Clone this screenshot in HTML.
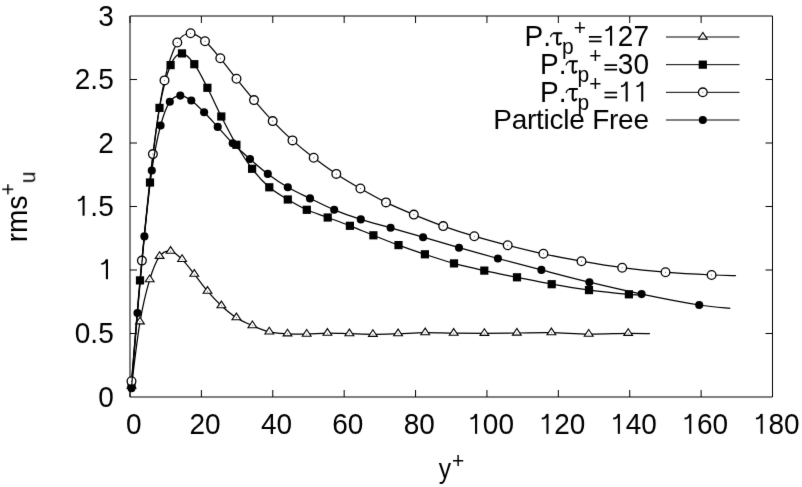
<!DOCTYPE html><html><head><meta charset="utf-8"><style>html,body{margin:0;padding:0;background:#fff;overflow:hidden;}svg{display:block;}text{font-family:"Liberation Sans",sans-serif;font-size:28px;fill:#000;font-kerning:none;}</style></head><body>
<svg width="802" height="487" viewBox="0 0 802 487">
<defs><filter id="soft" x="0" y="0" width="802" height="487" filterUnits="userSpaceOnUse" color-interpolation-filters="sRGB"><feConvolveMatrix order="3" kernelMatrix="0.00524 0.06192 0.00524 0.06192 0.73137 0.06192 0.00524 0.06192 0.00524" divisor="1" edgeMode="duplicate" preserveAlpha="true"/></filter></defs>
<g filter="url(#soft)" style="will-change:transform">
<rect width="802" height="487" fill="#fff"/>
<path d="M130,16H772.5V397H130ZM130,333.50h7M772.5,333.50h-7M130,270.00h7M772.5,270.00h-7M130,206.50h7M772.5,206.50h-7M130,143.00h7M772.5,143.00h-7M130,79.50h7M772.5,79.50h-7M130.00,397v-7M130.00,16v7M201.39,397v-7M201.39,16v7M272.78,397v-7M272.78,16v7M344.17,397v-7M344.17,16v7M415.56,397v-7M415.56,16v7M486.94,397v-7M486.94,16v7M558.33,397v-7M558.33,16v7M629.72,397v-7M629.72,16v7M701.11,397v-7M701.11,16v7M772.50,397v-7M772.50,16v7" fill="none" stroke="#000" stroke-width="1"/>
<text transform="translate(98.13,406.60) scale(1,1.035)">0</text>
<text transform="translate(74.78,343.10) scale(1,1.035)">0</text><text transform="translate(90.35,343.10) scale(1,1.035)">.</text><text transform="translate(98.13,343.10) scale(1,1.035)">5</text>
<path d="M105.88,279.20h2.10v-19.90h-2.10z" fill="#000"/><path d="M101.23,263.90C103.73,263.90 105.73,262.60 106.43,259.80" fill="none" stroke="#000" stroke-width="1.90"/>
<path d="M82.53,215.70h2.10v-19.90h-2.10z" fill="#000"/><path d="M77.88,200.40C80.38,200.40 82.38,199.10 83.08,196.30" fill="none" stroke="#000" stroke-width="1.90"/><text transform="translate(90.35,216.10) scale(1,1.035)">.</text><text transform="translate(98.13,216.10) scale(1,1.035)">5</text>
<text transform="translate(98.13,152.60) scale(1,1.035)">2</text>
<text transform="translate(74.78,89.10) scale(1,1.035)">2</text><text transform="translate(90.35,89.10) scale(1,1.035)">.</text><text transform="translate(98.13,89.10) scale(1,1.035)">5</text>
<text transform="translate(98.13,25.60) scale(1,1.035)">3</text>
<text transform="translate(125.91,434.20) scale(1,1.035)">0</text>
<text transform="translate(189.52,434.20) scale(1,1.035)">2</text><text transform="translate(205.09,434.20) scale(1,1.035)">0</text>
<text transform="translate(260.91,434.20) scale(1,1.035)">4</text><text transform="translate(276.48,434.20) scale(1,1.035)">0</text>
<text transform="translate(332.29,434.20) scale(1,1.035)">6</text><text transform="translate(347.87,434.20) scale(1,1.035)">0</text>
<text transform="translate(403.68,434.20) scale(1,1.035)">8</text><text transform="translate(419.26,434.20) scale(1,1.035)">0</text>
<path d="M475.04,433.80h2.10v-19.90h-2.10z" fill="#000"/><path d="M470.39,418.50C472.89,418.50 474.89,417.20 475.59,414.40" fill="none" stroke="#000" stroke-width="1.90"/><text transform="translate(482.86,434.20) scale(1,1.035)">0</text><text transform="translate(498.43,434.20) scale(1,1.035)">0</text>
<path d="M546.42,433.80h2.10v-19.90h-2.10z" fill="#000"/><path d="M541.77,418.50C544.27,418.50 546.27,417.20 546.97,414.40" fill="none" stroke="#000" stroke-width="1.90"/><text transform="translate(554.25,434.20) scale(1,1.035)">2</text><text transform="translate(569.82,434.20) scale(1,1.035)">0</text>
<path d="M617.81,433.80h2.10v-19.90h-2.10z" fill="#000"/><path d="M613.16,418.50C615.66,418.50 617.66,417.20 618.36,414.40" fill="none" stroke="#000" stroke-width="1.90"/><text transform="translate(625.64,434.20) scale(1,1.035)">4</text><text transform="translate(641.21,434.20) scale(1,1.035)">0</text>
<path d="M689.20,433.80h2.10v-19.90h-2.10z" fill="#000"/><path d="M684.55,418.50C687.05,418.50 689.05,417.20 689.75,414.40" fill="none" stroke="#000" stroke-width="1.90"/><text transform="translate(697.02,434.20) scale(1,1.035)">6</text><text transform="translate(712.60,434.20) scale(1,1.035)">0</text>
<path d="M760.59,433.80h2.10v-19.90h-2.10z" fill="#000"/><path d="M755.94,418.50C758.44,418.50 760.44,417.20 761.14,414.40" fill="none" stroke="#000" stroke-width="1.90"/><text transform="translate(768.41,434.20) scale(1,1.035)">8</text><text transform="translate(783.99,434.20) scale(1,1.035)">0</text>
<text transform="translate(438.8,477.8) scale(0.88,1)" x="0" y="0">y</text>
<text transform="translate(452.00,467.50) scale(1,1.035)" style="font-size:21px">+</text>
<g transform="translate(26.2,242.2) rotate(-90)"><text transform="translate(0.00,0.80) scale(1,1.035)">r</text><text transform="translate(9.32,0.80) scale(1,1.035)">m</text><text transform="translate(32.65,0.80) scale(1,1.035)">s</text><text transform="translate(46.65,-11.10) scale(1,1.035)" style="font-size:21px">+</text><text transform="translate(58.91,8.70) scale(1,1.035)" style="font-size:21px">u</text></g>
<path d="M131.50,386.00 C132.92,375.30 136.97,339.53 140.00,321.80 C143.03,304.07 146.43,290.52 149.70,279.60 C152.97,268.68 156.12,261.03 159.60,256.30 C163.08,251.57 166.85,250.68 170.60,251.20 C174.35,251.72 178.15,255.57 182.10,259.40 C186.05,263.23 190.07,268.90 194.30,274.20 C198.53,279.50 202.98,285.95 207.50,291.20 C212.02,296.45 216.58,301.28 221.40,305.70 C226.22,310.12 231.23,314.38 236.40,317.70 C241.57,321.02 246.92,323.23 252.40,325.60 C257.88,327.97 263.45,330.53 269.30,331.90 C275.15,333.27 281.27,333.43 287.50,333.80 C293.73,334.17 300.05,334.20 306.70,334.10 C313.35,334.00 320.28,333.27 327.40,333.20 C334.52,333.13 341.82,333.52 349.40,333.70 C356.98,333.88 364.78,334.30 372.90,334.30 C381.02,334.30 389.38,333.97 398.10,333.70 C406.82,333.43 415.93,332.78 425.20,332.70 C434.47,332.62 443.83,333.10 453.70,333.20 C463.57,333.30 473.88,333.33 484.40,333.30 C494.92,333.27 505.63,333.10 516.80,333.00 C527.97,332.90 539.42,332.52 551.40,332.70 C563.38,332.88 575.90,334.00 588.70,334.10 C601.50,334.20 618.00,333.37 628.20,333.30 C638.40,333.23 646.28,333.63 649.90,333.70" fill="none" stroke="#000" stroke-width="1.25"/>
<path d="M131.50,381.40L135.90,388.10L127.10,388.10Z" fill="#fff" stroke="#000" stroke-width="1.1"/><circle cx="131.50" cy="386.00" r="0.45" fill="#000"/>
<path d="M140.00,317.20L144.40,323.90L135.60,323.90Z" fill="#fff" stroke="#000" stroke-width="1.1"/><circle cx="140.00" cy="321.80" r="0.45" fill="#000"/>
<path d="M149.70,275.00L154.10,281.70L145.30,281.70Z" fill="#fff" stroke="#000" stroke-width="1.1"/><circle cx="149.70" cy="279.60" r="0.45" fill="#000"/>
<path d="M159.60,251.70L164.00,258.40L155.20,258.40Z" fill="#fff" stroke="#000" stroke-width="1.1"/><circle cx="159.60" cy="256.30" r="0.45" fill="#000"/>
<path d="M170.60,246.60L175.00,253.30L166.20,253.30Z" fill="#fff" stroke="#000" stroke-width="1.1"/><circle cx="170.60" cy="251.20" r="0.45" fill="#000"/>
<path d="M182.10,254.80L186.50,261.50L177.70,261.50Z" fill="#fff" stroke="#000" stroke-width="1.1"/><circle cx="182.10" cy="259.40" r="0.45" fill="#000"/>
<path d="M194.30,269.60L198.70,276.30L189.90,276.30Z" fill="#fff" stroke="#000" stroke-width="1.1"/><circle cx="194.30" cy="274.20" r="0.45" fill="#000"/>
<path d="M207.50,286.60L211.90,293.30L203.10,293.30Z" fill="#fff" stroke="#000" stroke-width="1.1"/><circle cx="207.50" cy="291.20" r="0.45" fill="#000"/>
<path d="M221.40,301.10L225.80,307.80L217.00,307.80Z" fill="#fff" stroke="#000" stroke-width="1.1"/><circle cx="221.40" cy="305.70" r="0.45" fill="#000"/>
<path d="M236.40,313.10L240.80,319.80L232.00,319.80Z" fill="#fff" stroke="#000" stroke-width="1.1"/><circle cx="236.40" cy="317.70" r="0.45" fill="#000"/>
<path d="M252.40,321.00L256.80,327.70L248.00,327.70Z" fill="#fff" stroke="#000" stroke-width="1.1"/><circle cx="252.40" cy="325.60" r="0.45" fill="#000"/>
<path d="M269.30,327.30L273.70,334.00L264.90,334.00Z" fill="#fff" stroke="#000" stroke-width="1.1"/><circle cx="269.30" cy="331.90" r="0.45" fill="#000"/>
<path d="M287.50,329.20L291.90,335.90L283.10,335.90Z" fill="#fff" stroke="#000" stroke-width="1.1"/><circle cx="287.50" cy="333.80" r="0.45" fill="#000"/>
<path d="M306.70,329.50L311.10,336.20L302.30,336.20Z" fill="#fff" stroke="#000" stroke-width="1.1"/><circle cx="306.70" cy="334.10" r="0.45" fill="#000"/>
<path d="M327.40,328.60L331.80,335.30L323.00,335.30Z" fill="#fff" stroke="#000" stroke-width="1.1"/><circle cx="327.40" cy="333.20" r="0.45" fill="#000"/>
<path d="M349.40,329.10L353.80,335.80L345.00,335.80Z" fill="#fff" stroke="#000" stroke-width="1.1"/><circle cx="349.40" cy="333.70" r="0.45" fill="#000"/>
<path d="M372.90,329.70L377.30,336.40L368.50,336.40Z" fill="#fff" stroke="#000" stroke-width="1.1"/><circle cx="372.90" cy="334.30" r="0.45" fill="#000"/>
<path d="M398.10,329.10L402.50,335.80L393.70,335.80Z" fill="#fff" stroke="#000" stroke-width="1.1"/><circle cx="398.10" cy="333.70" r="0.45" fill="#000"/>
<path d="M425.20,328.10L429.60,334.80L420.80,334.80Z" fill="#fff" stroke="#000" stroke-width="1.1"/><circle cx="425.20" cy="332.70" r="0.45" fill="#000"/>
<path d="M453.70,328.60L458.10,335.30L449.30,335.30Z" fill="#fff" stroke="#000" stroke-width="1.1"/><circle cx="453.70" cy="333.20" r="0.45" fill="#000"/>
<path d="M484.40,328.70L488.80,335.40L480.00,335.40Z" fill="#fff" stroke="#000" stroke-width="1.1"/><circle cx="484.40" cy="333.30" r="0.45" fill="#000"/>
<path d="M516.80,328.40L521.20,335.10L512.40,335.10Z" fill="#fff" stroke="#000" stroke-width="1.1"/><circle cx="516.80" cy="333.00" r="0.45" fill="#000"/>
<path d="M551.40,328.10L555.80,334.80L547.00,334.80Z" fill="#fff" stroke="#000" stroke-width="1.1"/><circle cx="551.40" cy="332.70" r="0.45" fill="#000"/>
<path d="M588.70,329.50L593.10,336.20L584.30,336.20Z" fill="#fff" stroke="#000" stroke-width="1.1"/><circle cx="588.70" cy="334.10" r="0.45" fill="#000"/>
<path d="M628.20,328.70L632.60,335.40L623.80,335.40Z" fill="#fff" stroke="#000" stroke-width="1.1"/><circle cx="628.20" cy="333.30" r="0.45" fill="#000"/>
<path d="M131.50,384.50 C132.92,367.15 136.92,314.07 140.00,280.40 C143.08,246.73 146.75,211.25 150.00,182.50 C153.25,153.75 156.07,127.47 159.50,107.90 C162.93,88.33 166.85,74.18 170.60,65.10 C174.35,56.02 178.05,53.55 182.00,53.40 C185.95,53.25 190.07,58.47 194.30,64.20 C198.53,69.93 202.90,79.08 207.40,87.80 C211.90,96.52 216.47,107.00 221.30,116.50 C226.13,126.00 231.27,136.08 236.40,144.80 C241.53,153.52 246.62,161.72 252.10,168.80 C257.58,175.88 263.35,182.18 269.30,187.30 C275.25,192.42 281.55,195.75 287.80,199.50 C294.05,203.25 300.15,206.80 306.80,209.80 C313.45,212.80 320.52,214.83 327.70,217.50 C334.88,220.17 342.28,222.83 349.90,225.80 C357.52,228.77 365.30,232.08 373.40,235.30 C381.50,238.52 389.92,241.93 398.50,245.10 C407.08,248.27 415.65,251.25 424.90,254.30 C434.15,257.35 444.10,260.68 454.00,263.40 C463.90,266.12 473.80,268.28 484.30,270.60 C494.80,272.92 505.77,275.03 517.00,277.30 C528.23,279.57 539.70,282.07 551.70,284.20 C563.70,286.33 576.13,288.42 589.00,290.10 C601.87,291.78 619.57,293.48 628.90,294.30 C638.23,295.12 642.32,294.88 645.00,295.00" fill="none" stroke="#000" stroke-width="1.25"/>
<rect x="127.40" y="380.40" width="8.2" height="8.2" fill="#000"/>
<rect x="135.90" y="276.30" width="8.2" height="8.2" fill="#000"/>
<rect x="145.90" y="178.40" width="8.2" height="8.2" fill="#000"/>
<rect x="155.40" y="103.80" width="8.2" height="8.2" fill="#000"/>
<rect x="166.50" y="61.00" width="8.2" height="8.2" fill="#000"/>
<rect x="177.90" y="49.30" width="8.2" height="8.2" fill="#000"/>
<rect x="190.20" y="60.10" width="8.2" height="8.2" fill="#000"/>
<rect x="203.30" y="83.70" width="8.2" height="8.2" fill="#000"/>
<rect x="217.20" y="112.40" width="8.2" height="8.2" fill="#000"/>
<rect x="232.30" y="140.70" width="8.2" height="8.2" fill="#000"/>
<rect x="248.00" y="164.70" width="8.2" height="8.2" fill="#000"/>
<rect x="265.20" y="183.20" width="8.2" height="8.2" fill="#000"/>
<rect x="283.70" y="195.40" width="8.2" height="8.2" fill="#000"/>
<rect x="302.70" y="205.70" width="8.2" height="8.2" fill="#000"/>
<rect x="323.60" y="213.40" width="8.2" height="8.2" fill="#000"/>
<rect x="345.80" y="221.70" width="8.2" height="8.2" fill="#000"/>
<rect x="369.30" y="231.20" width="8.2" height="8.2" fill="#000"/>
<rect x="394.40" y="241.00" width="8.2" height="8.2" fill="#000"/>
<rect x="420.80" y="250.20" width="8.2" height="8.2" fill="#000"/>
<rect x="449.90" y="259.30" width="8.2" height="8.2" fill="#000"/>
<rect x="480.20" y="266.50" width="8.2" height="8.2" fill="#000"/>
<rect x="512.90" y="273.20" width="8.2" height="8.2" fill="#000"/>
<rect x="547.60" y="280.10" width="8.2" height="8.2" fill="#000"/>
<rect x="584.90" y="286.00" width="8.2" height="8.2" fill="#000"/>
<rect x="624.80" y="290.20" width="8.2" height="8.2" fill="#000"/>
<path d="M131.50,381.20 C133.23,361.10 138.33,298.45 141.90,260.60 C145.47,222.75 149.13,184.13 152.90,154.10 C156.67,124.07 160.43,99.00 164.50,80.40 C168.57,61.80 172.95,50.35 177.30,42.50 C181.65,34.65 185.98,33.52 190.60,33.30 C195.22,33.08 200.05,37.03 205.00,41.20 C209.95,45.37 215.05,52.03 220.30,58.30 C225.55,64.57 230.88,71.83 236.50,78.80 C242.12,85.77 247.97,93.05 254.00,100.10 C260.03,107.15 266.28,114.38 272.70,121.10 C279.12,127.82 285.67,134.28 292.50,140.40 C299.33,146.52 306.40,152.22 313.70,157.80 C321.00,163.38 328.52,168.78 336.30,173.90 C344.08,179.02 352.12,183.75 360.40,188.50 C368.68,193.25 377.10,198.05 386.00,202.40 C394.90,206.75 404.27,210.65 413.80,214.60 C423.33,218.55 433.12,222.50 443.20,226.10 C453.28,229.70 463.55,233.00 474.30,236.20 C485.05,239.40 496.18,242.37 507.70,245.30 C519.22,248.23 531.10,251.15 543.40,253.80 C555.70,256.45 568.37,258.88 581.50,261.20 C594.63,263.52 608.20,265.87 622.20,267.70 C636.20,269.53 650.60,270.98 665.50,272.20 C680.40,273.42 699.87,274.43 711.60,275.00 C723.33,275.57 731.85,275.50 735.90,275.60" fill="none" stroke="#000" stroke-width="1.25"/>
<circle cx="131.50" cy="381.20" r="4.35" fill="#fff" stroke="#000" stroke-width="1.3"/><circle cx="131.50" cy="381.20" r="0.5" fill="#444"/>
<circle cx="141.90" cy="260.60" r="4.35" fill="#fff" stroke="#000" stroke-width="1.3"/><circle cx="141.90" cy="260.60" r="0.5" fill="#444"/>
<circle cx="152.90" cy="154.10" r="4.35" fill="#fff" stroke="#000" stroke-width="1.3"/><circle cx="152.90" cy="154.10" r="0.5" fill="#444"/>
<circle cx="164.50" cy="80.40" r="4.35" fill="#fff" stroke="#000" stroke-width="1.3"/><circle cx="164.50" cy="80.40" r="0.5" fill="#444"/>
<circle cx="177.30" cy="42.50" r="4.35" fill="#fff" stroke="#000" stroke-width="1.3"/><circle cx="177.30" cy="42.50" r="0.5" fill="#444"/>
<circle cx="190.60" cy="33.30" r="4.35" fill="#fff" stroke="#000" stroke-width="1.3"/><circle cx="190.60" cy="33.30" r="0.5" fill="#444"/>
<circle cx="205.00" cy="41.20" r="4.35" fill="#fff" stroke="#000" stroke-width="1.3"/><circle cx="205.00" cy="41.20" r="0.5" fill="#444"/>
<circle cx="220.30" cy="58.30" r="4.35" fill="#fff" stroke="#000" stroke-width="1.3"/><circle cx="220.30" cy="58.30" r="0.5" fill="#444"/>
<circle cx="236.50" cy="78.80" r="4.35" fill="#fff" stroke="#000" stroke-width="1.3"/><circle cx="236.50" cy="78.80" r="0.5" fill="#444"/>
<circle cx="254.00" cy="100.10" r="4.35" fill="#fff" stroke="#000" stroke-width="1.3"/><circle cx="254.00" cy="100.10" r="0.5" fill="#444"/>
<circle cx="272.70" cy="121.10" r="4.35" fill="#fff" stroke="#000" stroke-width="1.3"/><circle cx="272.70" cy="121.10" r="0.5" fill="#444"/>
<circle cx="292.50" cy="140.40" r="4.35" fill="#fff" stroke="#000" stroke-width="1.3"/><circle cx="292.50" cy="140.40" r="0.5" fill="#444"/>
<circle cx="313.70" cy="157.80" r="4.35" fill="#fff" stroke="#000" stroke-width="1.3"/><circle cx="313.70" cy="157.80" r="0.5" fill="#444"/>
<circle cx="336.30" cy="173.90" r="4.35" fill="#fff" stroke="#000" stroke-width="1.3"/><circle cx="336.30" cy="173.90" r="0.5" fill="#444"/>
<circle cx="360.40" cy="188.50" r="4.35" fill="#fff" stroke="#000" stroke-width="1.3"/><circle cx="360.40" cy="188.50" r="0.5" fill="#444"/>
<circle cx="386.00" cy="202.40" r="4.35" fill="#fff" stroke="#000" stroke-width="1.3"/><circle cx="386.00" cy="202.40" r="0.5" fill="#444"/>
<circle cx="413.80" cy="214.60" r="4.35" fill="#fff" stroke="#000" stroke-width="1.3"/><circle cx="413.80" cy="214.60" r="0.5" fill="#444"/>
<circle cx="443.20" cy="226.10" r="4.35" fill="#fff" stroke="#000" stroke-width="1.3"/><circle cx="443.20" cy="226.10" r="0.5" fill="#444"/>
<circle cx="474.30" cy="236.20" r="4.35" fill="#fff" stroke="#000" stroke-width="1.3"/><circle cx="474.30" cy="236.20" r="0.5" fill="#444"/>
<circle cx="507.70" cy="245.30" r="4.35" fill="#fff" stroke="#000" stroke-width="1.3"/><circle cx="507.70" cy="245.30" r="0.5" fill="#444"/>
<circle cx="543.40" cy="253.80" r="4.35" fill="#fff" stroke="#000" stroke-width="1.3"/><circle cx="543.40" cy="253.80" r="0.5" fill="#444"/>
<circle cx="581.50" cy="261.20" r="4.35" fill="#fff" stroke="#000" stroke-width="1.3"/><circle cx="581.50" cy="261.20" r="0.5" fill="#444"/>
<circle cx="622.20" cy="267.70" r="4.35" fill="#fff" stroke="#000" stroke-width="1.3"/><circle cx="622.20" cy="267.70" r="0.5" fill="#444"/>
<circle cx="665.50" cy="272.20" r="4.35" fill="#fff" stroke="#000" stroke-width="1.3"/><circle cx="665.50" cy="272.20" r="0.5" fill="#444"/>
<circle cx="711.60" cy="275.00" r="4.35" fill="#fff" stroke="#000" stroke-width="1.3"/><circle cx="711.60" cy="275.00" r="0.5" fill="#444"/>
<path d="M131.50,388.20 C132.50,375.67 135.35,338.30 137.50,313.00 C139.65,287.70 142.02,260.15 144.40,236.40 C146.78,212.65 149.10,188.98 151.80,170.50 C154.50,152.02 157.60,136.95 160.60,125.50 C163.60,114.05 166.52,106.78 169.80,101.80 C173.08,96.82 176.72,95.82 180.30,95.60 C183.88,95.38 187.33,97.72 191.30,100.50 C195.27,103.28 199.70,107.90 204.10,112.30 C208.50,116.70 212.93,121.73 217.70,126.90 C222.47,132.07 227.32,137.93 232.70,143.30 C238.08,148.67 244.15,154.00 250.00,159.10 C255.85,164.20 261.50,169.22 267.80,173.90 C274.10,178.58 280.77,183.12 287.80,187.20 C294.83,191.28 302.27,194.63 310.00,198.40 C317.73,202.17 325.73,206.30 334.20,209.80 C342.67,213.30 351.40,216.40 360.80,219.40 C370.20,222.40 380.22,224.83 390.60,227.80 C400.98,230.77 411.70,233.88 423.10,237.20 C434.50,240.52 446.53,244.15 459.00,247.70 C471.47,251.25 484.17,254.80 497.90,258.50 C511.63,262.20 526.15,265.95 541.40,269.90 C556.65,273.85 572.70,278.17 589.40,282.20 C606.10,286.23 623.30,290.30 641.60,294.10 C659.90,297.90 684.42,302.62 699.20,305.00 C713.98,307.38 725.12,307.83 730.30,308.40" fill="none" stroke="#000" stroke-width="1.25"/>
<circle cx="131.50" cy="388.20" r="4.05" fill="#000"/>
<circle cx="137.50" cy="313.00" r="4.05" fill="#000"/>
<circle cx="144.40" cy="236.40" r="4.05" fill="#000"/>
<circle cx="151.80" cy="170.50" r="4.05" fill="#000"/>
<circle cx="160.60" cy="125.50" r="4.05" fill="#000"/>
<circle cx="169.80" cy="101.80" r="4.05" fill="#000"/>
<circle cx="180.30" cy="95.60" r="4.05" fill="#000"/>
<circle cx="191.30" cy="100.50" r="4.05" fill="#000"/>
<circle cx="204.10" cy="112.30" r="4.05" fill="#000"/>
<circle cx="217.70" cy="126.90" r="4.05" fill="#000"/>
<circle cx="232.70" cy="143.30" r="4.05" fill="#000"/>
<circle cx="250.00" cy="159.10" r="4.05" fill="#000"/>
<circle cx="267.80" cy="173.90" r="4.05" fill="#000"/>
<circle cx="287.80" cy="187.20" r="4.05" fill="#000"/>
<circle cx="310.00" cy="198.40" r="4.05" fill="#000"/>
<circle cx="334.20" cy="209.80" r="4.05" fill="#000"/>
<circle cx="360.80" cy="219.40" r="4.05" fill="#000"/>
<circle cx="390.60" cy="227.80" r="4.05" fill="#000"/>
<circle cx="423.10" cy="237.20" r="4.05" fill="#000"/>
<circle cx="459.00" cy="247.70" r="4.05" fill="#000"/>
<circle cx="497.90" cy="258.50" r="4.05" fill="#000"/>
<circle cx="541.40" cy="269.90" r="4.05" fill="#000"/>
<circle cx="589.40" cy="282.20" r="4.05" fill="#000"/>
<circle cx="641.60" cy="294.10" r="4.05" fill="#000"/>
<circle cx="699.20" cy="305.00" r="4.05" fill="#000"/>
<text transform="translate(524.47,46.10) scale(1,1.035)">P</text><text transform="translate(543.15,46.10) scale(1,1.035)">.</text><path d="M550.43,37.20C551.13,34.70 552.13,33.40 554.13,33.20" fill="none" stroke="#000" stroke-width="1.20"/><path d="M553.53,32.20L562.23,32.20L562.23,34.20L554.13,34.20C553.33,34.20 552.73,33.70 553.53,32.20Z" fill="#000"/><path d="M557.53,33.30C557.13,37.30 556.93,41.30 557.23,43.30C557.53,45.10 559.73,45.00 561.13,42.70" fill="none" stroke="#000" stroke-width="2.10"/><text transform="translate(561.99,53.90) scale(1,1.035)" style="font-size:21px">p</text><text transform="translate(573.67,34.70) scale(1,1.035)" style="font-size:21px">+</text><path d="M588.93,36.00h12.60v1.75h-12.60zM588.93,40.55h12.60v1.75h-12.60z" fill="#000"/><path d="M610.03,45.70h2.10v-19.90h-2.10z" fill="#000"/><path d="M605.38,30.40C607.88,30.40 609.88,29.10 610.58,26.30" fill="none" stroke="#000" stroke-width="1.90"/><text transform="translate(617.86,46.10) scale(1,1.035)">2</text><text transform="translate(633.43,46.10) scale(1,1.035)">7</text>
<text transform="translate(540.05,74.27) scale(1,1.035)">P</text><text transform="translate(558.72,74.27) scale(1,1.035)">.</text><path d="M566.00,65.37C566.70,62.87 567.70,61.57 569.70,61.37" fill="none" stroke="#000" stroke-width="1.20"/><path d="M569.10,60.37L577.80,60.37L577.80,62.37L569.70,62.37C568.90,62.37 568.30,61.87 569.10,60.37Z" fill="#000"/><path d="M573.10,61.47C572.70,65.47 572.50,69.47 572.80,71.47C573.10,73.27 575.30,73.17 576.70,70.87" fill="none" stroke="#000" stroke-width="2.10"/><text transform="translate(577.56,82.07) scale(1,1.035)" style="font-size:21px">p</text><text transform="translate(589.24,62.87) scale(1,1.035)" style="font-size:21px">+</text><path d="M604.50,64.17h12.60v1.75h-12.60zM604.50,68.72h12.60v1.75h-12.60z" fill="#000"/><text transform="translate(617.86,74.27) scale(1,1.035)">3</text><text transform="translate(633.43,74.27) scale(1,1.035)">0</text>
<text transform="translate(540.05,101.93) scale(1,1.035)">P</text><text transform="translate(558.72,101.93) scale(1,1.035)">.</text><path d="M566.00,93.03C566.70,90.53 567.70,89.23 569.70,89.03" fill="none" stroke="#000" stroke-width="1.20"/><path d="M569.10,88.03L577.80,88.03L577.80,90.03L569.70,90.03C568.90,90.03 568.30,89.53 569.10,88.03Z" fill="#000"/><path d="M573.10,89.13C572.70,93.13 572.50,97.13 572.80,99.13C573.10,100.93 575.30,100.83 576.70,98.53" fill="none" stroke="#000" stroke-width="2.10"/><text transform="translate(577.56,109.73) scale(1,1.035)" style="font-size:21px">p</text><text transform="translate(589.24,90.53) scale(1,1.035)" style="font-size:21px">+</text><path d="M604.50,91.83h12.60v1.75h-12.60zM604.50,96.38h12.60v1.75h-12.60z" fill="#000"/><path d="M625.61,101.53h2.10v-19.90h-2.10z" fill="#000"/><path d="M620.96,86.23C623.46,86.23 625.46,84.93 626.16,82.13" fill="none" stroke="#000" stroke-width="1.90"/><path d="M641.18,101.53h2.10v-19.90h-2.10z" fill="#000"/><path d="M636.53,86.23C639.03,86.23 641.03,84.93 641.73,82.13" fill="none" stroke="#000" stroke-width="1.90"/>
<text x="493.20" y="128.80" textLength="155.8" lengthAdjust="spacing">Particle Free</text>
<path d="M666,37.00H739.5M666,64.67H739.5M666,92.33H739.5M666,120.00H739.5" fill="none" stroke="#000" stroke-width="1"/>
<path d="M702.80,32.40L707.20,39.10L698.40,39.10Z" fill="#fff" stroke="#000" stroke-width="1.1"/><circle cx="702.80" cy="37.00" r="0.45" fill="#000"/>
<rect x="698.70" y="60.57" width="8.2" height="8.2" fill="#000"/>
<circle cx="702.80" cy="92.33" r="4.35" fill="#fff" stroke="#000" stroke-width="1.3"/><circle cx="702.80" cy="92.33" r="0.5" fill="#444"/>
<circle cx="702.80" cy="120.00" r="4.05" fill="#000"/>
</g></svg></body></html>
